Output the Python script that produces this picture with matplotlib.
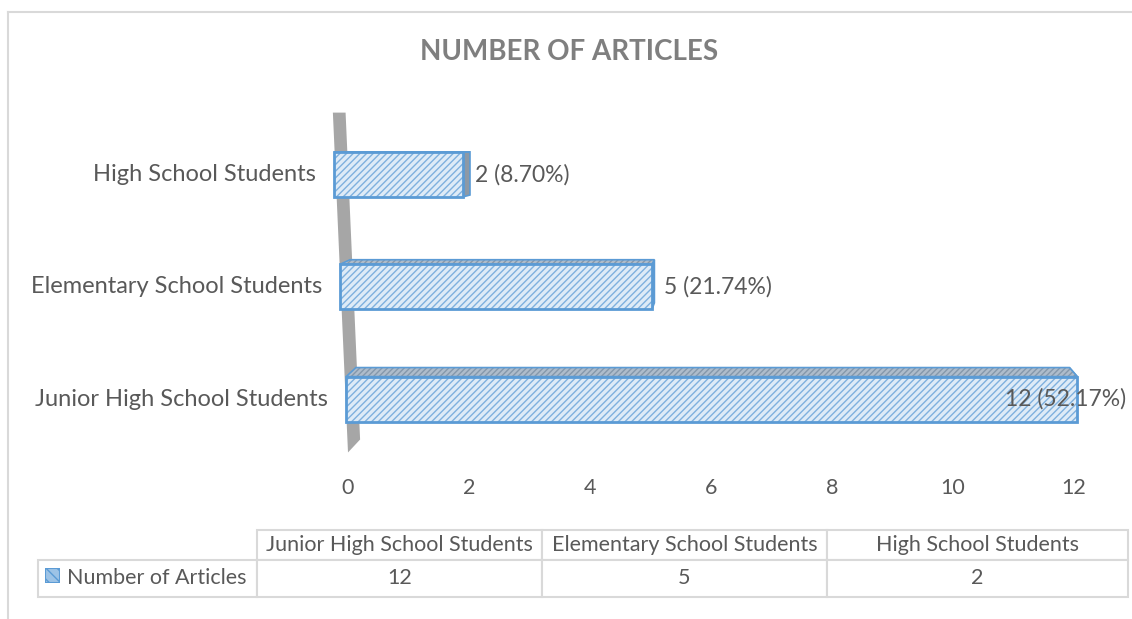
import numpy as np
import matplotlib
matplotlib.use("Agg")
import matplotlib.pyplot as plt
from matplotlib.patches import Polygon, Rectangle
from matplotlib.lines import Line2D

plt.rcParams['font.family'] = ['Lato', 'DejaVu Sans']

############################################################################
# data
############################################################################

title = "NUMBER OF ARTICLES"
series_name = "Number of Articles"
categories = ["Junior High School Students", "Elementary School Students", "High School Students"]
values = [12, 5, 2]
percents = [52.17, 21.74, 8.70]
x_ticks = [0, 2, 4, 6, 8, 10, 12]

############################################################################
# style
############################################################################

W, H = 1132, 619
TXT = '#595959'
BLUE = '#5b9bd5'
FACE = '#deebf7'
TOP = '#aebccb'
SIDE = '#8d99a6'
WALL = '#a6a6a6'
GRID = '#d9d9d9'

# fake perspective of the excel 3d chart (per row shift / stretch)
row_shift = [-0.03, -0.13, -0.23]
row_stretch = [1.007, 1.031, 1.066]
bar_h = 0.40


def px_box(l, t, r, b):
    # pixel box (from top-left) -> figure fraction rect
    return [l / W, 1 - b / H, (r - l) / W, (b - t) / H]


def depth(x, y):
    # offset of the back face for a point on the front face
    return 0.16 - 0.024 * x, 0.0885 - 0.04 * y


fig = plt.figure(figsize=(W / 100, H / 100), dpi=100)

# chart frame
fig.add_artist(Line2D([8 / W, 1], [1 - 12 / H, 1 - 12 / H], color=GRID, lw=1.5))
fig.add_artist(Line2D([8 / W, 8 / W], [1 - 12 / H, 0], color=GRID, lw=1.5))

fig.text(569 / W, 1 - 52 / H, title, ha='center', va='center',
         fontsize=20, fontweight='bold', color='#7f7f7f')

############################################################################
# main axes
############################################################################

ax = fig.add_axes(px_box(300, 100, 1100, 460))
ax.set_xlim(-48 / 60.5, 12 + 26 / 60.5)
ax.set_ylim(-61 / 112.5, 2 + 74.5 / 112.5)
for s in ax.spines.values():
    s.set_visible(False)
ax.set_yticks([])
ax.set_xticks(x_ticks)
ax.set_xticklabels([str(t) for t in x_ticks])
ax.tick_params(axis='x', length=0, pad=13, labelsize=15.5, labelcolor=TXT)

# side wall
ax.add_patch(Polygon([(-0.25, 2.55), (-0.04, 2.55), (0.20, -0.36), (0.0, -0.475)],
                     closed=True, facecolor=WALL, edgecolor='none', zorder=1))

for i, (cat, v, p) in enumerate(zip(categories, values, percents)):
    x0 = row_shift[i]
    x1 = x0 + v * row_stretch[i]
    y0, y1 = i - bar_h / 2, i + bar_h / 2

    # right side face
    dxt, dyt = depth(x1, y1)
    dxb, dyb = depth(x1, y0)
    side = [(x1, y1), (x1, y0), (x1 + dxb, y0 + dyb), (x1 + dxt, y1 + dyt)]
    ax.add_patch(Polygon(side, closed=True, facecolor=SIDE, edgecolor=BLUE,
                         lw=1.2, zorder=2))

    # top face
    dxl, dyl = depth(x0, y1)
    top = [(x0, y1), (x1, y1), (x1 + dxt, y1 + dyt), (x0 + dxl, y1 + dyl)]
    ax.add_patch(Polygon(top, closed=True, facecolor=TOP, edgecolor='#8598ab',
                         hatch='//////', lw=0, zorder=3))
    ax.add_patch(Polygon(top, closed=True, facecolor='none', edgecolor=BLUE,
                         lw=1.2, zorder=3))

    # front face
    ax.barh(i, x1 - x0, left=x0, height=bar_h, color=FACE, edgecolor='#7fb0de',
            hatch='/////', lw=0, zorder=4)
    ax.barh(i, x1 - x0, left=x0, height=bar_h, color='none', edgecolor=BLUE,
            lw=2, zorder=5)

    # category label
    ax.text(x0 - 0.3, i, cat, ha='right', va='center', fontsize=17, color=TXT)

    # data label, pulled inside the bar when it would leave the chart
    label = f"{v} ({p:.2f}%)"
    if v == max(values):
        ax.text(ax.get_xlim()[1] + 0.43, i, label, ha='right', va='center',
                fontsize=16.5, color=TXT, zorder=6)
    else:
        ax.text(x1 + 0.2, i, label, ha='left', va='center', fontsize=16.5,
                color=TXT, zorder=6)

############################################################################
# data table
############################################################################

tax = fig.add_axes(px_box(38, 530, 1128, 597))
tax.axis('off')
col_w = [219, 285, 285, 301]
col_w = [c / sum(col_w) for c in col_w]
cell_text = [[""] + categories, [series_name] + [str(v) for v in values]]
tb = tax.table(cellText=cell_text, colWidths=col_w, cellLoc='center',
               bbox=[0, 0, 1, 1])
tb.auto_set_font_size(False)
for (r, c), cell in tb.get_celld().items():
    cell.set_edgecolor(GRID)
    cell.set_linewidth(1.5)
    cell.set_height(30 / 67 if r == 0 else 37 / 67)
    cell.get_text().set_fontsize(15.5)
    cell.get_text().set_color(TXT)
tb[0, 0].visible_edges = ''
tb[1, 0].get_text().set_horizontalalignment('left')
tb[1, 0].PAD = 29 / 219

# legend key inside the table
kax = fig.add_axes(px_box(45, 568, 60, 583))
kax.axis('off')
kax.set_xlim(0, 1)
kax.set_ylim(0, 1)
kax.add_patch(Rectangle((0, 0), 1, 1, facecolor='#9dc3e6', edgecolor=BLUE,
                        hatch='\\\\\\', lw=1.5))

fig.savefig("out.png", dpi=100)
